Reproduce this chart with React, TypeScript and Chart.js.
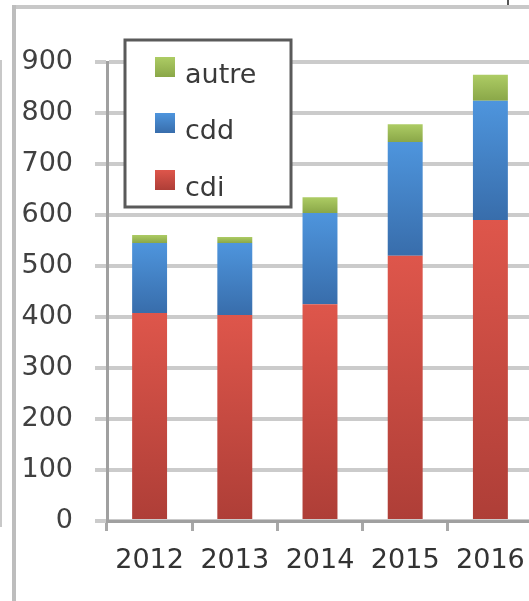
import React, { useEffect, useRef } from "react";
import { Chart, registerables } from "chart.js";

Chart.register(...registerables);

const categories = ["2012", "2013", "2014", "2015", "2016"];
const cdiValues = [408, 404, 425, 520, 590];
const cddValues = [137, 141, 179, 223, 234];
const autreValues = [16, 12, 31, 35, 51];
const yTicks = [0, 100, 200, 300, 400, 500, 600, 700, 800, 900];

const seriesColors: Record<string, { top: string; bottom: string; base: string }> = {
  cdi: { top: "#de564b", bottom: "#ae3e37", base: "#d04b42" },
  cdd: { top: "#4e95dd", bottom: "#386dab", base: "#4682c8" },
  autre: { top: "#adcc64", bottom: "#8aa748", base: "#9bbb59" },
};

const FONT = "'DejaVu Sans', sans-serif";

export default function App() {
  const canvasRef = useRef<HTMLCanvasElement | null>(null);

  useEffect(() => {
    const canvas = canvasRef.current;
    if (!canvas) return;
    const stacks = [cdiValues, cddValues, autreValues];

    const makeBg = (dsIndex: number, key: string) => (ctx: any) => {
      const chart = ctx.chart;
      const c = seriesColors[key];
      if (!chart.chartArea || ctx.type !== "data") return c.base;
      const y = chart.scales.y;
      const i = ctx.dataIndex;
      let bottom = 0;
      for (let k = 0; k < dsIndex; k++) bottom += stacks[k][i];
      const top = bottom + stacks[dsIndex][i];
      const y0 = y.getPixelForValue(top);
      const y1 = y.getPixelForValue(bottom);
      const g = chart.ctx.createLinearGradient(0, y0, 0, y1);
      g.addColorStop(0, c.top);
      g.addColorStop(1, c.bottom);
      return g;
    };

    const legendPlugin = {
      id: "boxLegend",
      afterDraw(chart: any) {
        const ctx = chart.ctx as CanvasRenderingContext2D;
        ctx.save();
        const bx = 125, by = 40, bw = 166, bh = 167;
        ctx.fillStyle = "#ffffff";
        ctx.fillRect(bx, by, bw, bh);
        ctx.strokeStyle = "#5a5a5a";
        ctx.lineWidth = 3;
        ctx.strokeRect(bx, by, bw, bh);
        const order = [2, 1, 0];
        const centers = [67, 123, 180];
        order.forEach((dsi, row) => {
          const ds = chart.data.datasets[dsi];
          const c = seriesColors[ds.label];
          const cy = centers[row];
          const g = ctx.createLinearGradient(0, cy - 10, 0, cy + 10);
          g.addColorStop(0, c.top);
          g.addColorStop(1, c.bottom);
          ctx.fillStyle = g;
          ctx.fillRect(155, cy - 10, 20, 20);
          ctx.fillStyle = "#3a3a3a";
          ctx.font = `27px ${FONT}`;
          ctx.textAlign = "left";
          ctx.textBaseline = "alphabetic";
          ctx.fillText(ds.label, 185, cy + 16);
        });
        ctx.restore();
      },
    };

    const chart = new Chart(canvas, {
      type: "bar",
      data: {
        labels: categories,
        datasets: [
          { label: "cdi", data: cdiValues, backgroundColor: makeBg(0, "cdi") as any, borderWidth: 0 },
          { label: "cdd", data: cddValues, backgroundColor: makeBg(1, "cdd") as any, borderWidth: 0 },
          { label: "autre", data: autreValues, backgroundColor: makeBg(2, "autre") as any, borderWidth: 0 },
        ],
      },
      options: {
        animation: false,
        responsive: false,
        devicePixelRatio: 1,
        layout: { padding: { top: 62, right: 7, left: 0, bottom: 0 } },
        plugins: { legend: { display: false }, tooltip: { enabled: false } },
        datasets: { bar: { categoryPercentage: 1, barPercentage: 0.41 } },
        scales: {
          x: {
            stacked: true,
            offset: true,
            grid: {
              offset: true,
              drawOnChartArea: false,
              drawTicks: true,
              tickLength: 10,
              color: "#a8a8a8",
              lineWidth: 3,
            },
            border: { display: true, color: "#a0a0a0", width: 3 },
            ticks: {
              color: "#333333",
              font: { family: FONT, size: 27 },
              padding: 14,
              maxRotation: 0,
            },
            afterFit(scale: any) {
              scale.height = 80;
            },
          },
          y: {
            stacked: true,
            min: 0,
            max: 900,
            afterBuildTicks(scale: any) {
              scale.ticks = yTicks.map((v) => ({ value: v }));
            },
            grid: {
              color: "#cbcbcb",
              lineWidth: 4,
              drawTicks: true,
              tickLength: 12,
            },
            border: { display: true, color: "#a0a0a0", width: 3 },
            ticks: {
              color: "#404040",
              font: { family: FONT, size: 27 },
              padding: 22,
            },
            afterFit(scale: any) {
              scale.width = 107;
            },
          },
        },
      },
      plugins: [legendPlugin],
    });
    return () => chart.destroy();
  }, []);

  return (
    <div
      style={{
        position: "fixed",
        left: 0,
        top: 0,
        width: 529,
        height: 601,
        overflow: "hidden",
        background: "#ffffff",
      }}
    >
      <canvas ref={canvasRef} width={540} height={601} style={{ position: "absolute", left: 0, top: 0 }} />
      <div style={{ position: "absolute", left: 12, top: 5, width: 530, height: 4, background: "#c8c8c8" }} />
      <div style={{ position: "absolute", left: 12, top: 5, width: 4, height: 600, background: "#bdbdbd" }} />
      <div style={{ position: "absolute", left: 0, top: 60, width: 2, height: 467, background: "#c8c8c8" }} />
      <div style={{ position: "absolute", left: 507, top: 0, width: 2, height: 5, background: "#555555" }} />
    </div>
  );
}
